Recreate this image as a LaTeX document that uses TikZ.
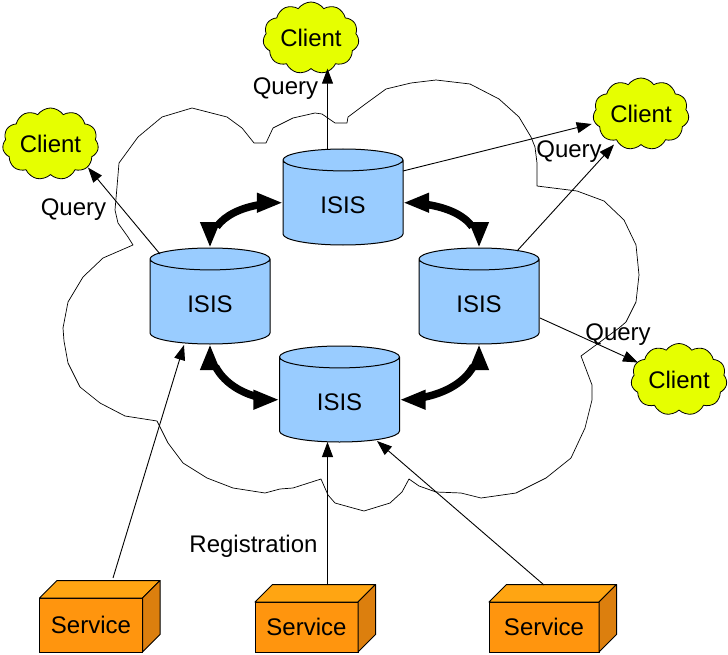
\documentclass[tikz,border=0pt]{standalone}
\usepackage{fontspec}
\setmainfont{Liberation Sans}
\usetikzlibrary{shapes.geometric,shapes.symbols,arrows.meta,bending}
\definecolor{isisblue}{HTML}{99CCFF}
\definecolor{clientyellow}{HTML}{E6FF00}
\definecolor{svcfront}{HTML}{FF950E}
\definecolor{svctop}{HTML}{FFA512}
\definecolor{svcside}{HTML}{DC7F0E}
\tikzset{
  label text/.style={font=\fontsize{24}{28}\selectfont, inner sep=0pt, outer sep=0pt},
  isis/.style={label text, text height=22.5pt, text depth=0pt, cylinder, shape border rotate=90, aspect=0.483, draw=black, fill=isisblue, line width=1pt, minimum height=96pt, minimum width=120pt, anchor=shape center},
  client/.style={label text, cloud, cloud puffs=11, cloud puff arc=110, draw=black, fill=clientyellow, line width=0.8pt, minimum width=96pt, minimum height=72pt, cloud ignores aspect},
  service/.style={label text, rectangle, draw=black, fill=svcfront, line width=1pt, minimum height=50pt},
  query/.style={draw=black, line width=0.9pt, -{Triangle[length=15pt,width=11pt]}},
  sync/.style={draw=black, line width=7.5pt, {Triangle[length=26pt,width=18pt,flex=0]}-{Triangle[length=26pt,width=18pt,flex=0]}}
}
\begin{document}
\begin{tikzpicture}[x=1pt, y=-1pt]
\useasboundingbox (0,0) rectangle (728,655);
\draw[line width=0.7pt, line join=round] (133,245) -- (128,237) -- (118,223) -- (115,210) -- (117,187) -- (119,163) -- (138,137) -- (162,117) -- (192,108) -- (227,117) -- (242,128) -- (254,143) -- (266,143) -- (273,128) -- (293,118) -- (315,113) -- (322,114) -- (335,123) -- (347,123) -- (348,117) -- (364,105) -- (386,89) -- (411,83) -- (436,80) -- (470,84) -- (499,99) -- (519,117) -- (531,137) -- (535,147) -- (537,163) -- (537,186) -- (577,191) -- (604,201) -- (624,220) -- (636,245) -- (639,275) -- (636,302) -- (626,322) -- (619,328) -- (581,356) -- (592,385) -- (592,400) -- (585,428) -- (571,458) -- (546,478) -- (516,493) -- (481,498) -- (461,493) -- (436,492) -- (419,486) -- (409,479) -- (402,492) -- (390,503) -- (364,511) -- (353,508) -- (335,503) -- (328,495) -- (321,479) -- (293,488) -- (280,489) -- (265,493) -- (233,488) -- (207,478) -- (183,463) -- (168,443) -- (157,421) -- (125,416) -- (100,403) -- (80,387) -- (68,363) -- (64,341) -- (63,328) -- (68,302) -- (83,277) -- (103,258) -- cycle;

\node[isis] (isistop) at (343,197) {ISIS};
\node[isis] (isisleft) at (210,296) {ISIS};
\node[isis] (isisright) at (479,296) {ISIS};
\node[isis] (isisbottom) at (339.5,394) {ISIS};

\node[client] (clienttop) at (311,38) {Client};
\node[client] (clientleft) at (50.5,144) {Client};
\node[client] (clientright) at (641,114) {Client};
\node[client] (clientbottom) at (679,379.5) {Client};

\node[service, minimum width=103pt, minimum height=54pt] (svcleft) at (91,625) {Service};
\node[service, minimum width=103pt] (svcmid) at (306.5,627) {Service};
\node[service, minimum width=110pt] (svcright) at (544,627) {Service};
\foreach \svc in {svcleft,svcmid,svcright} {
  \filldraw[fill=svctop, line width=1pt, line join=round] (\svc.north west) -- ++(17.5,-17.5) -- ([shift={(17.5,-17.5)}]\svc.north east) -- (\svc.north east) -- cycle;
  \filldraw[fill=svcside, line width=1pt, line join=round] (\svc.north east) -- ++(17.5,-17.5) -- ([shift={(17.5,-17.5)}]\svc.south east) -- (\svc.south east) -- cycle;
}

\draw[sync] (isistop.west) to[out=180, in=90] (isisleft.north);
\draw[sync] (isistop.east) to[out=0, in=90] (isisright.north);
\draw[sync] (isisbottom.west) to[out=180, in=-90] (isisleft.south);
\draw[sync] (isisbottom.east) to[out=0, in=-90] (isisright.south);

\draw[query] ([xshift=-15.5pt]isistop.north) -- ([xshift=16.5pt]clienttop.south);
\draw[query] ([shift={(-50,6)}]isisleft.north) -- ([shift={(37.5,-7)}]clientleft.south);
\draw[query] ([shift={(60,22)}]isistop.north) -- ([shift={(-2,10)}]clientright.west);
\draw[query] ([shift={(38,3)}]isisright.north) -- ([shift={(-27,0)}]clientright.south);
\draw[query] ([shift={(61,70)}]isisright.north) -- ([shift={(-41,19)}]clientbottom.north);
\draw[query] ([shift={(22,-20)}]svcleft.north) -- ([shift={(-26,1)}]isisleft.south);
\draw[query] ([shift={(21,-17)}]svcmid.north) -- ([xshift=-12pt]isisbottom.south);
\draw[query] ([shift={(0,-17)}]svcright.north) -- ([shift={(37.5,-1)}]isisbottom.south);

\node[label text, anchor=base] (querytop) at (285.5,95) {Query};
\node[label text, anchor=base] (queryleft) at (73.5,215) {Query};
\node[label text, anchor=base] (queryright) at (569,158) {Query};
\node[label text, anchor=base] (querybottom) at (618,340) {Query};
\node[label text, anchor=base] (registration) at (253.5,552) {Registration};
\end{tikzpicture}
\end{document}
